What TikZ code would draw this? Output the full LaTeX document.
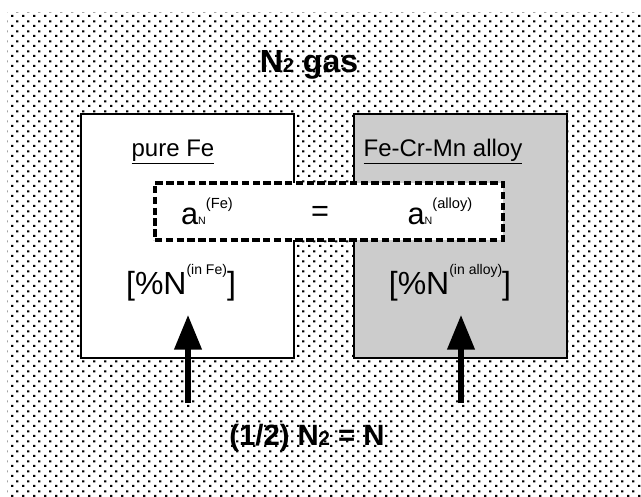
\documentclass[tikz,border=0pt]{standalone}
\usepackage{fontspec}
\setmainfont{Liberation Sans}
\usepackage{tikz}
\usetikzlibrary{arrows.meta,patterns.meta}

\newcommand\smallsub[2]{{\fontsize{#1}{#1}\selectfont #2}}
\newcommand\highsup[3]{\raisebox{#2}{\fontsize{#1}{#1}\selectfont #3}}

\tikzdeclarepattern{
  name=gasdots,
  type=uncolored,
  bottom left={(0pt,0pt)},
  top right={(7.9pt,7.5pt)},
  tile size={(7.9pt,7.5pt)},
  code={
    \fill (0pt,0pt) rectangle (1.8pt,1.8pt);
    \fill (3.95pt,3.75pt) rectangle (5.75pt,5.55pt);
  }
}

\begin{document}
\begin{tikzpicture}[x=0.75pt,y=-0.75pt,every node/.style={inner sep=0pt, outer sep=0pt},
  phasebox/.style={draw=black, line width=1.9pt, minimum width=159.75pt, minimum height=183pt},
  activitybox/.style={draw=black, fill=white, line width=2.4pt, dash pattern=on 5.5pt off 2.6pt, minimum width=261pt, minimum height=42.75pt},
  uparrow/.style={line width=4pt, -{Triangle[length=26pt,width=20pt]}}]
\useasboundingbox (0,0) rectangle (641,496);
\fill[white] (0,0) rectangle (641,496);
\fill[pattern=gasdots, pattern color=black] (7,12) rectangle (641,496);
\node[font=\fontsize{24}{24}\selectfont\bfseries] (gas) at (309,65) {N\smallsub{15}{2} gas};
\node[phasebox, fill=white] (fe) at (187.5,236) {};
\node[phasebox, fill={rgb,255:red,204;green,204;blue,204}] (alloy) at (460.5,236) {};
\node[font=\fontsize{18}{18}\selectfont] (feName) at (173,152) {\underline{pure Fe}};
\node[font=\fontsize{18}{18}\selectfont] (alloyName) at (443,152) {\underline{Fe-Cr-Mn alloy}};
\node[activitybox] (act) at (329,211.5) {};
\node[font=\fontsize{23}{23}\selectfont] (aFe) at (207,211) {a\smallsub{8}{N}\highsup{11}{12pt}{(Fe)}};
\node[font=\fontsize{23}{23}\selectfont] (eq) at (320,214) {=};
\node[font=\fontsize{23}{23}\selectfont] (aAlloy) at (440,211) {a\smallsub{8}{N}\highsup{11}{12pt}{(alloy)}};
\node[font=\fontsize{24}{24}\selectfont] (nFe) at (181,283) {[\%N\highsup{10.5}{15pt}{(in Fe)}]};
\node[font=\fontsize{24}{24}\selectfont] (nAlloy) at (450,283) {[\%N\highsup{10.5}{15pt}{(in alloy)}]};
\node[font=\fontsize{22}{22}\selectfont\bfseries] (react) at (307,438) {(1/2) N\smallsub{15}{2} = N};
\coordinate (feFoot) at (188,403);
\coordinate (feTip) at (188,315);
\coordinate (alloyFoot) at (461,403);
\coordinate (alloyTip) at (461,315);
\draw[uparrow] (feFoot) -- (feTip);
\draw[uparrow] (alloyFoot) -- (alloyTip);
\end{tikzpicture}
\end{document}
